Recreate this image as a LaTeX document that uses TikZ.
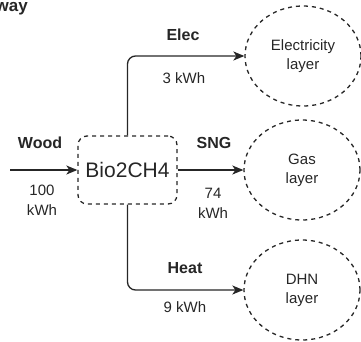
\documentclass[tikz,border=0pt]{standalone}
\usepackage{fontspec}
\setmainfont{Liberation Sans}
\usetikzlibrary{arrows.meta,shapes.geometric}

\begin{document}
\begin{tikzpicture}[
  x=1pt, y=-1pt,
  flow/.style={-{Stealth[length=11pt,width=9pt,inset=3pt]}, line width=1.3pt, draw=black!85, rounded corners=8pt},
  unit/.style={draw=black!85, dash pattern=on 4pt off 4pt, line width=1.3pt, rounded corners=9pt, minimum width=99pt, minimum height=68pt, font=\fontsize{21}{25}\selectfont, text=black!85},
  layer/.style={ellipse, draw=black!85, dash pattern=on 4pt off 4pt, line width=1.3pt, minimum width=116pt, minimum height=100pt, inner sep=0pt, align=center, font=\fontsize{15}{19}\selectfont, text=black!85},
  lbl/.style={font=\fontsize{16}{19}\selectfont\bfseries, text=black!85},
  qty/.style={font=\fontsize{15}{20}\selectfont, align=center, text=black!85}
]
  \useasboundingbox (0,0) rectangle (361,341);

  % Title, cut at the left edge
  \node[font=\fontsize{17}{20}\selectfont\bfseries, text=black!85, anchor=base east, inner sep=0pt] (title) at (28,11) {way};

  % Conversion unit and layers
  \node[unit] (bio) at (127.5,170) {Bio2CH4};
  \node[layer] (elec) at (303,56)  {Electricity\\layer};
  \node[layer] (gas)  at (302,170) {Gas\\layer};
  \node[layer] (dhn)  at (302,290) {DHN\\layer};

  % Flows
  \coordinate (woodin) at (10,170);
  \draw[flow] (woodin) -- (bio.west);
  \draw[flow] (bio.north) |- (elec.west);
  \draw[flow] (bio.east) -- (gas.west);
  \draw[flow] (bio.south) |- (dhn.west);

  % Flow labels
  \node[lbl] (woodlbl) at (40,143)  {Wood};
  \node[qty] (woodqty) at (42,200)  {100\\kWh};
  \node[lbl] (eleclbl) at (183,35)  {Elec};
  \node[qty] (elecqty) at (184,78)  {3 kWh};
  \node[lbl] (snglbl)  at (214,143) {SNG};
  \node[qty] (sngqty)  at (213,203) {74\\kWh};
  \node[lbl] (heatlbl) at (185,268) {Heat};
  \node[qty] (heatqty) at (185,307) {9 kWh};
\end{tikzpicture}
\end{document}
